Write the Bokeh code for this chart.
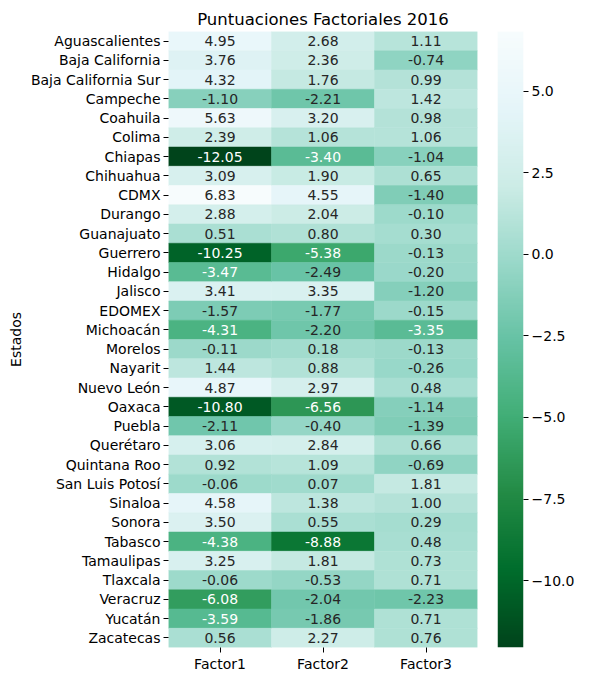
import numpy as np
from bokeh.plotting import figure
from bokeh.layouts import row
from bokeh.models import ColumnDataSource, LinearColorMapper, FixedTicker, CustomJSTickFormatter, Range1d
from bokeh.embed import file_html
from bokeh.resources import INLINE

estados = ["Aguascalientes", "Baja California", "Baja California Sur", "Campeche", "Coahuila",
           "Colima", "Chiapas", "Chihuahua", "CDMX", "Durango", "Guanajuato", "Guerrero",
           "Hidalgo", "Jalisco", "EDOMEX", "Michoacán", "Morelos", "Nayarit", "Nuevo León",
           "Oaxaca", "Puebla", "Querétaro", "Quintana Roo", "San Luis Potosí", "Sinaloa",
           "Sonora", "Tabasco", "Tamaulipas", "Tlaxcala", "Veracruz", "Yucatán", "Zacatecas"]
factores = ["Factor1", "Factor2", "Factor3"]
factor1 = [4.95, 3.76, 4.32, -1.10, 5.63, 2.39, -12.05, 3.09, 6.83, 2.88, 0.51, -10.25,
           -3.47, 3.41, -1.57, -4.31, -0.11, 1.44, 4.87, -10.80, -2.11, 3.06, 0.92, -0.06,
           4.58, 3.50, -4.38, 3.25, -0.06, -6.08, -3.59, 0.56]
factor2 = [2.68, 2.36, 1.76, -2.21, 3.20, 1.06, -3.40, 1.90, 4.55, 2.04, 0.80, -5.38,
           -2.49, 3.35, -1.77, -2.20, 0.18, 0.88, 2.97, -6.56, -0.40, 2.84, 1.09, 0.07,
           1.38, 0.55, -8.88, 1.81, -0.53, -2.04, -1.86, 2.27]
factor3 = [1.11, -0.74, 0.99, 1.42, 0.98, 1.06, -1.04, 0.65, -1.40, -0.10, 0.30, -0.13,
           -0.20, -1.20, -0.15, -3.35, -0.13, -0.26, 0.48, -1.14, -1.39, 0.66, -0.69, 1.81,
           1.00, 0.29, 0.48, 0.73, 0.71, -2.23, 0.71, 0.76]
cbar_ticks = [-10.0, -7.5, -5.0, -2.5, 0.0, 2.5, 5.0]

# BuGn_r colormap (ColorBrewer BuGn anchors, reversed), 256 levels
anchors = ["#00441b", "#006d2c", "#238b45", "#41ae76", "#66c2a4", "#99d8c9", "#ccece6", "#e5f5f9", "#f7fcfd"]
arr = np.array([[int(h[i:i + 2], 16) / 255 for i in (1, 3, 5)] for h in anchors])
pos = np.linspace(0, 1, len(anchors))
t = np.linspace(0, 1, 256)
cm = np.stack([np.interp(t, pos, arr[:, k]) for k in range(3)], axis=1)
palette = ["#%02x%02x%02x" % tuple(int(round(c * 255)) for c in rw) for rw in cm]

cols = {"Factor1": factor1, "Factor2": factor2, "Factor3": factor3}
allv = factor1 + factor2 + factor3
vmin, vmax = min(allv), max(allv)


def lum(rgb):
    lin = [c / 12.92 if c <= 0.03928 else ((c + 0.055) / 1.055) ** 2.4 for c in rgb]
    return 0.2126 * lin[0] + 0.7152 * lin[1] + 0.0722 * lin[2]


xs, ys, vals, fills, tcol, labels = [], [], [], [], [], []
for f in factores:
    for e, v in zip(estados, cols[f]):
        idx = int((v - vmin) / (vmax - vmin) * 256)
        idx = min(max(idx, 0), 255)
        xs.append(f)
        ys.append(e)
        vals.append(v)
        fills.append(palette[idx])
        tcol.append("#262626" if lum(cm[idx]) > 0.408 else "#ffffff")
        labels.append("%.2f" % v)

src = ColumnDataSource(dict(x=xs, y=ys, v=vals, fill=fills, tc=tcol, lab=labels))

FONT = "DejaVu Sans"
FS = "14px"
H = 677
TOP, BOT = 31, 30

p = figure(width=497, height=H, x_range=factores, y_range=list(reversed(estados)),
           output_backend="svg", toolbar_location=None,
           min_border_left=168, min_border_top=TOP, min_border_bottom=BOT, min_border_right=20,
           title="Puntuaciones Factoriales 2016")
p.title.align = "center"
p.title.text_font = FONT
p.title.text_font_size = "16.5px"
p.title.text_font_style = "normal"
p.title.text_color = "#000000"
p.title.standoff = 5
p.outline_line_color = None
p.grid.grid_line_color = None

p.rect(x="x", y="y", width=1, height=1, source=src, fill_color="fill", line_color="fill", line_width=0.5)
p.text(x="x", y="y", text="lab", source=src, text_color="tc", text_align="center",
       text_baseline="middle", text_font={"value": FONT}, text_font_size=FS)

for ax in (p.xaxis[0], p.yaxis[0]):
    ax.axis_line_color = None
    ax.major_tick_out = 5
    ax.major_tick_in = 0
    ax.minor_tick_line_color = None
    ax.major_label_text_font = FONT
    ax.major_label_text_font_size = FS
    ax.major_label_text_color = "#000000"
    ax.major_tick_line_color = "#000000"
    ax.major_label_standoff = 3
p.yaxis.axis_label = "Estados"
p.yaxis.axis_label_text_font = FONT
p.yaxis.axis_label_text_font_size = FS
p.yaxis.axis_label_text_font_style = "normal"
p.yaxis.axis_label_text_color = "#000000"
p.yaxis.axis_label_standoff = 4

# colour bar drawn as its own narrow plot
mapper = LinearColorMapper(palette=palette, low=vmin, high=vmax)
cb = figure(width=80, height=H, x_range=Range1d(0, 1), y_range=Range1d(vmin, vmax),
            y_axis_location="right", output_backend="svg", toolbar_location=None,
            min_border_left=0, min_border_right=50, min_border_top=TOP, min_border_bottom=BOT)
cb.image(image=[np.linspace(vmin, vmax, 256).reshape(256, 1)], x=0, y=vmin, dw=1, dh=vmax - vmin,
         color_mapper=mapper)
cb.xaxis.visible = False
cb.grid.grid_line_color = None
cb.outline_line_color = None
ya = cb.yaxis[0]
ya.ticker = FixedTicker(ticks=cbar_ticks)
ya.formatter = CustomJSTickFormatter(code="return (tick < 0 ? '\u2212' : '') + Math.abs(tick).toFixed(1);")
ya.axis_line_color = None
ya.major_tick_out = 5
ya.major_tick_in = 0
ya.minor_tick_line_color = None
ya.major_tick_line_color = "#000000"
ya.major_label_text_font = FONT
ya.major_label_text_font_size = FS
ya.major_label_text_color = "#000000"
ya.major_label_standoff = 3

layout = row(p, cb, spacing=0)
open("out.html", "w").write(file_html(layout, INLINE))
